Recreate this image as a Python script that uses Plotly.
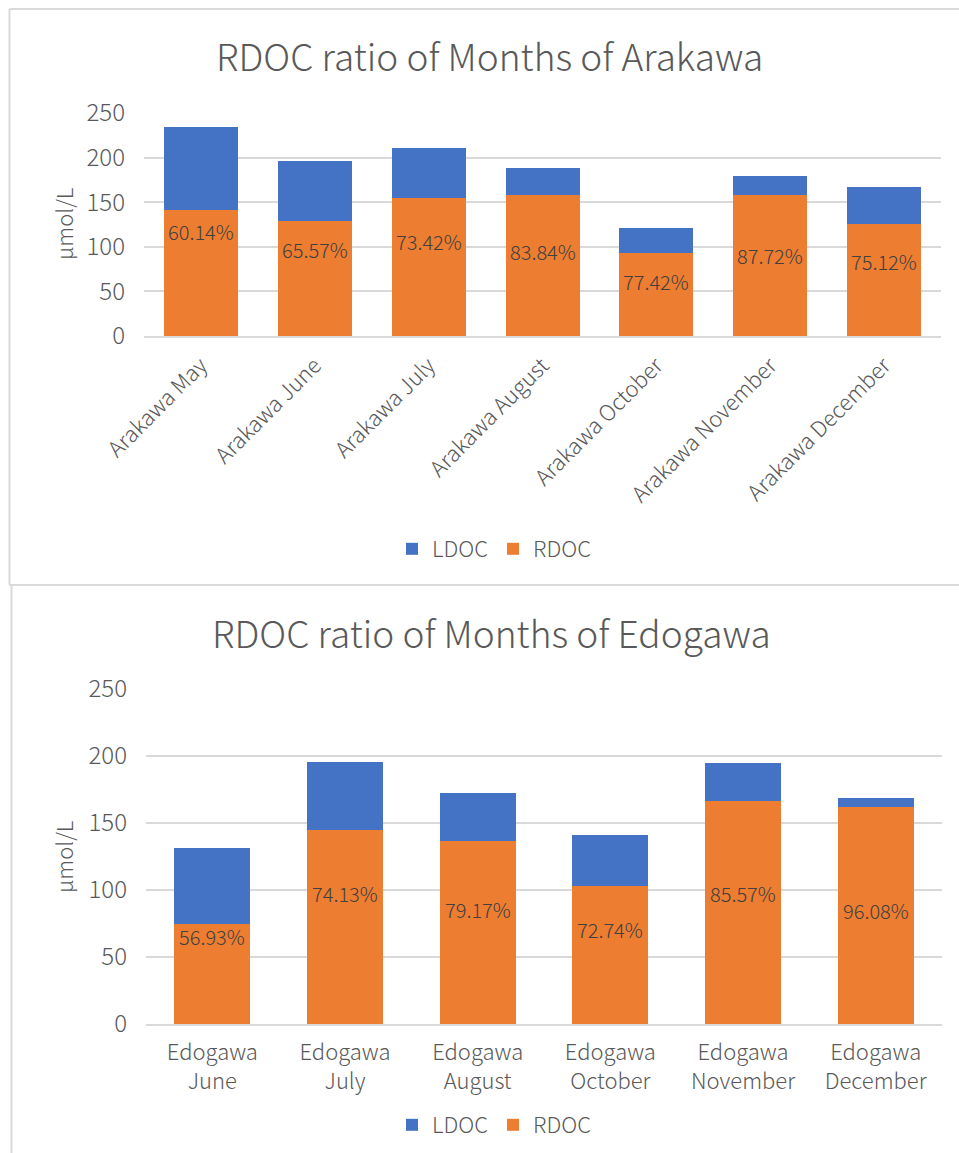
import plotly.graph_objects as go

# Arakawa: total DOC per month (μmol/L) and RDOC share
arakawa_months = ["Arakawa May", "Arakawa June", "Arakawa July", "Arakawa August",
                  "Arakawa October", "Arakawa November", "Arakawa December"]
arakawa_total = [234.6, 195.8, 211.1, 188.0, 120.7, 179.7, 167.0]
arakawa_ratio = [60.14, 65.57, 73.42, 83.84, 77.42, 87.72, 75.12]
arakawa_label_y = [116.6, 97.5, 105.8, 94.6, 61.0, 89.7, 84.0]

# Edogawa: total DOC per month (μmol/L) and RDOC share
edogawa_months = ["Edogawa<br>June", "Edogawa<br>July", "Edogawa<br>August",
                  "Edogawa<br>October", "Edogawa<br>November", "Edogawa<br>December"]
edogawa_total = [131.7, 195.5, 172.3, 141.4, 194.5, 168.8]
edogawa_ratio = [56.93, 74.13, 79.17, 72.74, 85.57, 96.08]
edogawa_label_y = [65.2, 97.6, 85.7, 70.7, 97.1, 84.6]

y_ticks = [0, 50, 100, 150, 200, 250]

BLUE = "#4472C4"
ORANGE = "#ED7D31"
GRID = "#D9D9D9"
TEXT = "#595959"
FONT = "Noto Sans CJK SC"
WEIGHT = 300

W, H = 959, 1153


def px_x(p):
    return p / W


def px_y(p):
    return 1 - p / H


def f(size, color=TEXT):
    return dict(family=FONT, size=size, color=color, weight=WEIGHT)


fig = go.Figure()

charts = [
    dict(cats=arakawa_months, total=arakawa_total, ratio=arakawa_ratio, label_y=arakawa_label_y,
         xa="x", ya="y", legend="legend", width=0.65),
    dict(cats=edogawa_months, total=edogawa_total, ratio=edogawa_ratio, label_y=edogawa_label_y,
         xa="x2", ya="y2", legend="legend2", width=0.575),
]

for c in charts:
    rdoc = [t * r / 100 for t, r in zip(c["total"], c["ratio"])]
    ldoc = [t - v for t, v in zip(c["total"], rdoc)]
    fig.add_trace(go.Bar(x=c["cats"], y=rdoc, name="RDOC", marker_color=ORANGE,
                         marker_line_width=0, width=c["width"],
                         xaxis=c["xa"], yaxis=c["ya"], legend=c["legend"]))
    fig.add_trace(go.Bar(x=c["cats"], y=ldoc, name="LDOC", marker_color=BLUE,
                         marker_line_width=0, width=c["width"],
                         xaxis=c["xa"], yaxis=c["ya"], legend=c["legend"]))
    for cat, r, ly in zip(c["cats"], c["ratio"], c["label_y"]):
        fig.add_annotation(x=cat, y=ly, xref=c["xa"], yref=c["ya"], text=f"{r:.2f}%",
                           showarrow=False, font=f(20, "#404040"))

axis_common = dict(showline=True, linecolor=GRID, linewidth=2, ticks="", automargin=False)
yaxis_common = dict(range=[0, 250], tickvals=y_ticks, showgrid=True, gridcolor=GRID,
                    gridwidth=2, zeroline=False, showline=False, ticks="", automargin=False,
                    ticklabelstandoff=18, tickfont=f(24))

fig.update_layout(
    width=W, height=H, margin=dict(l=0, r=0, t=0, b=0, autoexpand=False),
    paper_bgcolor="white", plot_bgcolor="white",
    barmode="stack",
    font=dict(family=FONT, color=TEXT),
    xaxis=dict(domain=[px_x(144), px_x(941)], anchor="y", tickangle=-45,
               ticklabelstandoff=6, tickfont=f(22), **axis_common),
    yaxis=dict(domain=[px_y(336), px_y(113)], anchor="x", **yaxis_common),
    xaxis2=dict(domain=[px_x(146), px_x(942)], anchor="y2", tickangle=0,
                ticklabelstandoff=8, tickfont=f(22), **axis_common),
    yaxis2=dict(domain=[px_y(1024), px_y(689)], anchor="x2", **yaxis_common),
    legend=dict(orientation="h", x=px_x(494), xanchor="center", y=px_y(549), yanchor="middle",
                traceorder="reversed", font=f(22), itemwidth=30, bgcolor="rgba(0,0,0,0)"),
    legend2=dict(orientation="h", x=px_x(494), xanchor="center", y=px_y(1125), yanchor="middle",
                 traceorder="reversed", font=f(22), itemwidth=30, bgcolor="rgba(0,0,0,0)"),
)

# chart titles
fig.add_annotation(text="RDOC ratio of Months of Arakawa", xref="paper", yref="paper",
                   x=px_x(489), y=px_y(55), xanchor="center", yanchor="middle",
                   showarrow=False, font=f(37))
fig.add_annotation(text="RDOC ratio of Months of Edogawa", xref="paper", yref="paper",
                   x=px_x(491), y=px_y(632), xanchor="center", yanchor="middle",
                   showarrow=False, font=f(37))

# value axis titles
for yc in (224, 857):
    fig.add_annotation(text="μmol/L", xref="paper", yref="paper", x=px_x(63), y=px_y(yc),
                       xanchor="center", yanchor="middle", textangle=-90,
                       showarrow=False, font=f(22))

# chart frames
frame = dict(color=GRID, width=2)
fig.add_shape(type="line", xref="paper", yref="paper", x0=px_x(9.5), x1=1.0, y0=px_y(9), y1=px_y(9), line=frame)
fig.add_shape(type="line", xref="paper", yref="paper", x0=px_x(9.5), x1=px_x(9.5), y0=px_y(9), y1=px_y(585), line=frame)
fig.add_shape(type="line", xref="paper", yref="paper", x0=px_x(9.5), x1=1.0, y0=px_y(585), y1=px_y(585), line=frame)
fig.add_shape(type="line", xref="paper", yref="paper", x0=px_x(11.5), x1=px_x(11.5), y0=px_y(586), y1=0, line=frame)

fig.write_html("out.html")
